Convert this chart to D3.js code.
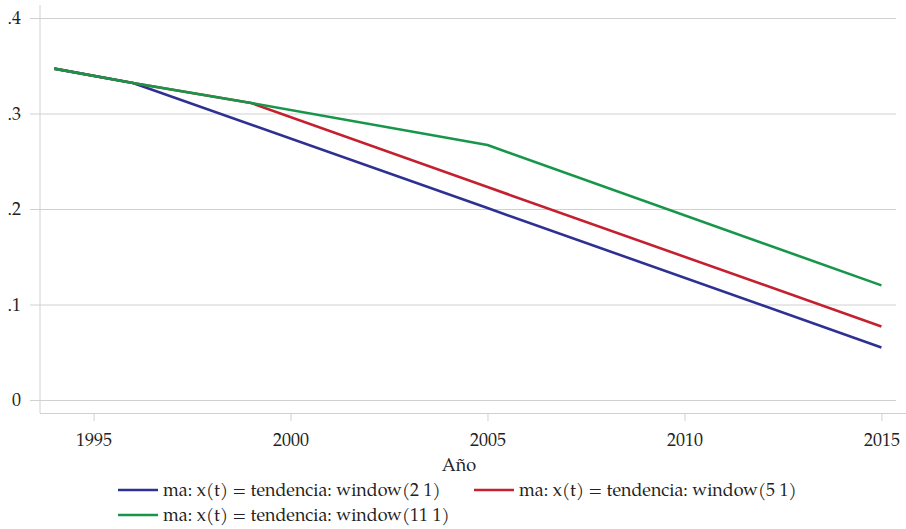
<!DOCTYPE html>
<html>
<head>
  <meta charset="UTF-8">
  <title>Tendencia</title>
  <style>
    body { margin: 0; background: #fff; }
    #chart { display: block; }
  </style>
</head>
<body>
  <svg id="chart"></svg>

  <script src="https://d3js.org/d3.v7.min.js"></script>
  <script>
    const width = 906;
    const height = 529;
    const serif = '"TeX Gyre Pagella", "Liberation Serif", serif';

    // data (vertices of each line)
    const years2 = [1994, 1996, 2005, 2015];
    const values2 = [0.347, 0.332, 0.201, 0.055];
    const years5 = [1994, 1996, 1999, 2005, 2015];
    const values5 = [0.347, 0.332, 0.311, 0.223, 0.077];
    const years11 = [1994, 1996, 1999, 2005, 2015];
    const values11 = [0.347, 0.332, 0.311, 0.267, 0.120];

    const seriesNames = [
      "ma: x(t) = tendencia: window(2 1)",
      "ma: x(t) = tendencia: window(5 1)",
      "ma: x(t) = tendencia: window(11 1)"
    ];
    const seriesColors = ["#2e3192", "#c4202f", "#17964a"];

    const xTicks = [1995, 2000, 2005, 2010, 2015];
    const yTicks = [0, 0.1, 0.2, 0.3, 0.4];
    const yTickLabels = ["0", ".1", ".2", ".3", ".4"];

    const series = [
      years2.map((y, i) => ({ x: y, y: values2[i] })),
      years5.map((y, i) => ({ x: y, y: values5[i] })),
      years11.map((y, i) => ({ x: y, y: values11[i] }))
    ];

    const plot = { left: 40, right: 896, top: 5, bottom: 413 };

    const xScale = d3.scaleLinear()
      .domain([1993.64, 2015.37])
      .range([plot.left, plot.right]);

    const yScale = d3.scaleLinear()
      .domain([0, 0.4])
      .range([400, 18]);

    const svg = d3.select("#chart")
      .attr("width", width)
      .attr("height", height);

    // horizontal gridlines + y tick marks
    const yAxis = svg.append("g")
      .attr("transform", `translate(${plot.left}, 0)`)
      .call(d3.axisLeft(yScale)
        .tickValues(yTicks)
        .tickFormat((d, i) => yTickLabels[i])
        .tickSize(10)
        .tickPadding(9));
    yAxis.select(".domain").remove();
    yAxis.selectAll(".tick line")
      .attr("stroke", "#d0d0d0");
    yAxis.selectAll(".tick").append("line")
      .attr("x1", 0)
      .attr("x2", plot.right - plot.left)
      .attr("stroke", "#d0d0d0");
    yAxis.selectAll(".tick text")
      .style("font-family", serif)
      .style("font-size", "18px")
      .attr("fill", "#222");

    // left axis line
    svg.append("line")
      .attr("x1", plot.left).attr("x2", plot.left)
      .attr("y1", plot.top).attr("y2", plot.bottom)
      .attr("stroke", "#d0d0d0");

    // bottom axis
    const xAxis = svg.append("g")
      .attr("transform", `translate(0, ${plot.bottom})`)
      .call(d3.axisBottom(xScale)
        .tickValues(xTicks)
        .tickFormat(d3.format("d"))
        .tickSize(8)
        .tickPadding(12));
    xAxis.select(".domain")
      .attr("d", `M${plot.left},0.5H${width}`)
      .attr("stroke", "#d0d0d0");
    xAxis.selectAll(".tick line").attr("stroke", "#d0d0d0");
    xAxis.selectAll(".tick text")
      .style("font-family", serif)
      .style("font-size", "18px")
      .attr("fill", "#222");

    svg.append("text")
      .attr("x", 459)
      .attr("y", 471)
      .attr("text-anchor", "middle")
      .style("font-family", serif)
      .style("font-size", "18px")
      .attr("fill", "#222")
      .text("Año");

    // lines
    const line = d3.line()
      .x(d => xScale(d.x))
      .y(d => yScale(d.y));

    svg.append("g")
      .selectAll("path")
      .data(series)
      .join("path")
      .attr("d", line)
      .attr("fill", "none")
      .attr("stroke", (d, i) => seriesColors[i])
      .attr("stroke-width", 2.6)
      .attr("stroke-linejoin", "round");

    // legend
    const legendPos = [
      { x: 118, y: 490 },
      { x: 474, y: 490 },
      { x: 118, y: 515 }
    ];
    const legend = svg.append("g")
      .selectAll("g")
      .data(seriesNames)
      .join("g")
      .attr("transform", (d, i) => `translate(${legendPos[i].x}, ${legendPos[i].y})`);
    legend.append("line")
      .attr("x1", 0).attr("x2", 40)
      .attr("stroke", (d, i) => seriesColors[i])
      .attr("stroke-width", 2.6);
    legend.append("text")
      .attr("x", 45)
      .attr("dy", "0.33em")
      .style("font-family", serif)
      .style("font-size", "17.9px")
      .attr("fill", "#222")
      .text(d => d);
  </script>
</body>
</html>
